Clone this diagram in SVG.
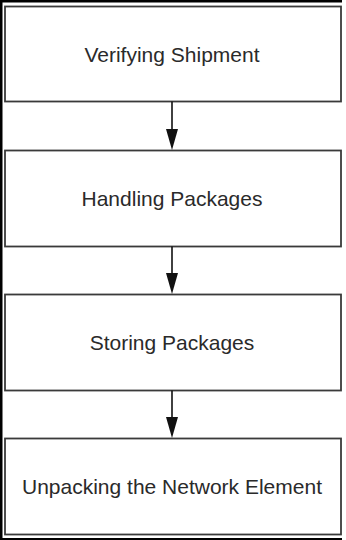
<svg xmlns="http://www.w3.org/2000/svg" width="346" height="540" viewBox="0 0 346 540">
<style>
.box{fill:#ffffff;stroke:#3a3a3a;stroke-width:1.8}
.lbl{font-family:"Liberation Sans",Arial,sans-serif;font-size:21px;fill:#2a2a2a;text-anchor:middle}
.conn{stroke:#111;stroke-width:1.6;fill:none}
.head{fill:#111}
</style>
<rect x="0" y="0" width="346" height="540" fill="#ffffff"/>
<g id="frame">
<rect x="0" y="0" width="342" height="2.5" fill="#000"/>
<rect x="0" y="0" width="2.5" height="540" fill="#000"/>
<rect x="0" y="538" width="342" height="2" fill="#000"/>
</g>
<g id="node1"><rect class="box" x="5" y="6.5" width="336" height="95"/><text class="lbl" x="172" y="62">Verifying Shipment</text></g>
<g id="node2"><rect class="box" x="5" y="150.5" width="336" height="96"/><text class="lbl" x="172" y="206">Handling Packages</text></g>
<g id="node3"><rect class="box" x="5" y="294.5" width="336" height="96"/><text class="lbl" x="172" y="350">Storing Packages</text></g>
<g id="node4"><rect class="box" x="5" y="438.5" width="336" height="96"/><text class="lbl" x="172" y="494">Unpacking the Network Element</text></g>
<g id="connectors">
<line class="conn" x1="172" y1="101.5" x2="172" y2="130"/>
<polygon class="head" points="166,129 178,129 172,150"/>
<line class="conn" x1="172" y1="246.5" x2="172" y2="274"/>
<polygon class="head" points="166,273 178,273 172,294"/>
<line class="conn" x1="172" y1="390.5" x2="172" y2="418"/>
<polygon class="head" points="166,417 178,417 172,438"/>
</g>
</svg>
